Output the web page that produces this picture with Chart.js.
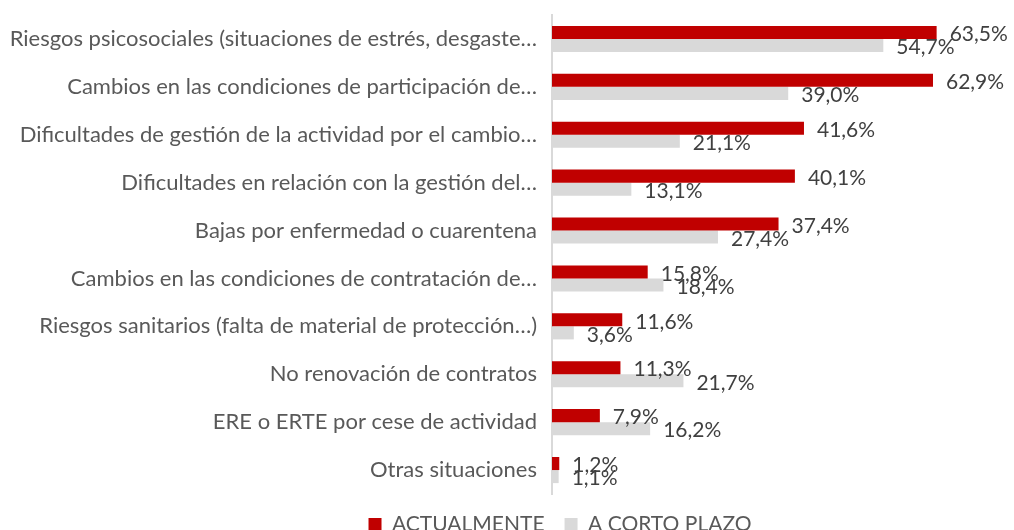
<!DOCTYPE html>
<html>
<head>
<meta charset="utf-8">
<script src="https://cdn.jsdelivr.net/npm/chart.js@4"></script>
<style>
  html, body { margin: 0; padding: 0; background: #fff; }
  #wrap { width: 1014px; height: 530px; }
</style>
</head>
<body>
<div id="wrap"><canvas id="c"></canvas></div>
<script>
// ── Data ─────────────────────────────────────────────
const categories = [
  'Riesgos psicosociales (situaciones de estrés, desgaste…',
  'Cambios en las condiciones de participación de…',
  'Dificultades de gestión de la actividad por el cambio…',
  'Dificultades en relación con la gestión del…',
  'Bajas por enfermedad o cuarentena',
  'Cambios en las condiciones de contratación de…',
  'Riesgos sanitarios (falta de material de protección…)',
  'No renovación de contratos',
  'ERE o ERTE por cese de actividad',
  'Otras situaciones',
];
const actualmente = [63.5, 62.9, 41.6, 40.1, 37.4, 15.8, 11.6, 11.3, 7.9, 1.2];
const cortoPlazo = [54.7, 39.0, 21.1, 13.1, 27.4, 18.4, 3.6, 21.7, 16.2, 1.1];
const seriesNames = ['ACTUALMENTE', 'A CORTO PLAZO'];

const FONT = 'Lato, "Open Sans", sans-serif';
const fmt = (v) => v.toFixed(1).replace('.', ',') + '%';

// data labels drawn after each bar end
const barLabels = {
  id: 'barLabels',
  afterDatasetsDraw(chart) {
    const { ctx } = chart;
    ctx.save();
    ctx.font = '21px ' + FONT;
    ctx.fillStyle = '#404040';
    ctx.textAlign = 'left';
    ctx.textBaseline = 'middle';
    chart.data.datasets.forEach((ds, di) => {
      chart.getDatasetMeta(di).data.forEach((bar, i) => {
        ctx.fillText(fmt(ds.data[i]), bar.x + 13, bar.y + 2);
      });
    });
    ctx.restore();
  },
};

// Excel centres the legend a bit right of the page middle
const legendShift = {
  id: 'legendShift',
  afterLayout(chart) {
    chart.legend.left += 72;
    chart.legend.right += 72;
  },
};

new Chart(document.getElementById('c'), {
  type: 'bar',
  data: {
    labels: categories,
    datasets: [
      { label: seriesNames[0], data: actualmente, backgroundColor: '#C00000' },
      { label: seriesNames[1], data: cortoPlazo, backgroundColor: '#D9D9D9' },
    ],
  },
  options: {
    indexAxis: 'y',
    responsive: true,
    maintainAspectRatio: false,
    animation: false,
    layout: { padding: { top: 15, right: 38, left: 0, bottom: -15 } },
    datasets: { bar: { categoryPercentage: 0.545, barPercentage: 1 } },
    scales: {
      x: { min: 0, max: 70, display: false },
      y: {
        grid: { display: false },
        border: { display: true, color: '#D9D9D9', width: 2 },
        ticks: { color: '#595959', font: { family: FONT, size: 22 }, padding: 7 },
        afterFit(scale) {
          scale.width = 552;
          scale.paddingTop = 0;
          scale.paddingBottom = 0;
        },
      },
    },
    plugins: {
      legend: {
        position: 'bottom',
        labels: {
          color: '#595959',
          font: { family: FONT, size: 21 },
          boxWidth: 13,
          boxHeight: 13,
          padding: 20,
        },
      },
      tooltip: { enabled: false },
    },
  },
  plugins: [barLabels, legendShift],
});
</script>
</body>
</html>
